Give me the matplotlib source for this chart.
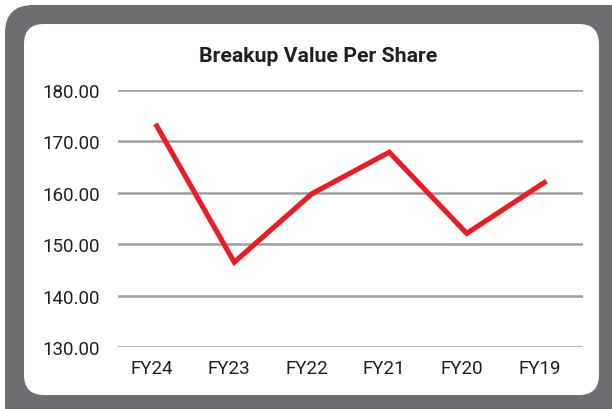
import matplotlib.pyplot as plt
from matplotlib.patches import FancyBboxPatch
from matplotlib.transforms import ScaledTranslation

plt.rcParams['font.family'] = ['Roboto', 'DejaVu Sans']

years = ['FY24', 'FY23', 'FY22', 'FY21', 'FY20', 'FY19']
bvps = [173.0, 146.5, 159.8, 167.9, 152.1, 162.0]
yticks = [130, 140, 150, 160, 170, 180]

W, H = 612, 410
fig = plt.figure(figsize=(W / 100, H / 100), dpi=100)

# background frame, drawn in pixel coords
bg = fig.add_axes([0, 0, 1, 1], zorder=0)
bg.set_xlim(0, W)
bg.set_ylim(H, 0)
bg.axis('off')
bg.add_patch(FancyBboxPatch((5 + 28, 6 + 28), 640 - 56, 440 - 56,
                            boxstyle='round,pad=28', fc='#6d6e71', ec='none'))
bg.add_patch(FancyBboxPatch((24 + 20, 25 + 20), 575 - 40, 371 - 40,
                            boxstyle='round,pad=20', fc='white', ec='none'))

ax = fig.add_axes([118 / W, 1 - 348 / H, 465 / W, 257 / H], zorder=1)
ax.patch.set_alpha(0)
x = list(range(len(years)))
ax.plot(x, bvps, color='#ed1c24', lw=3.7, solid_joinstyle='miter', zorder=3)
ax.set_xlim(-0.5, len(years) - 0.5)
ax.set_ylim(130, 180)
ax.set_yticks(yticks)
ax.set_yticklabels([f'{v:.2f}' for v in yticks])
ax.set_xticks(x)
ax.set_xticklabels(years)
ax.grid(axis='y', color='#9d9ea1', lw=1.8)
ax.set_axisbelow(True)
for s in ax.spines.values():
    s.set_visible(False)
ax.tick_params(length=0, labelsize=13.5, colors='#231f20')
ax.tick_params(axis='y', pad=13)
ax.tick_params(axis='x', pad=9)
# category labels sit a few px left of the points in the original
shift = ScaledTranslation(-5 / 100, 0, fig.dpi_scale_trans)
for lab in ax.get_xticklabels():
    lab.set_transform(lab.get_transform() + shift)

fig.text(318 / W, 1 - 62 / H, 'Breakup Value Per Share', fontsize=15.3,
         fontweight='bold', color='#231f20', ha='center', va='baseline')

fig.savefig('out.png', dpi=100)
